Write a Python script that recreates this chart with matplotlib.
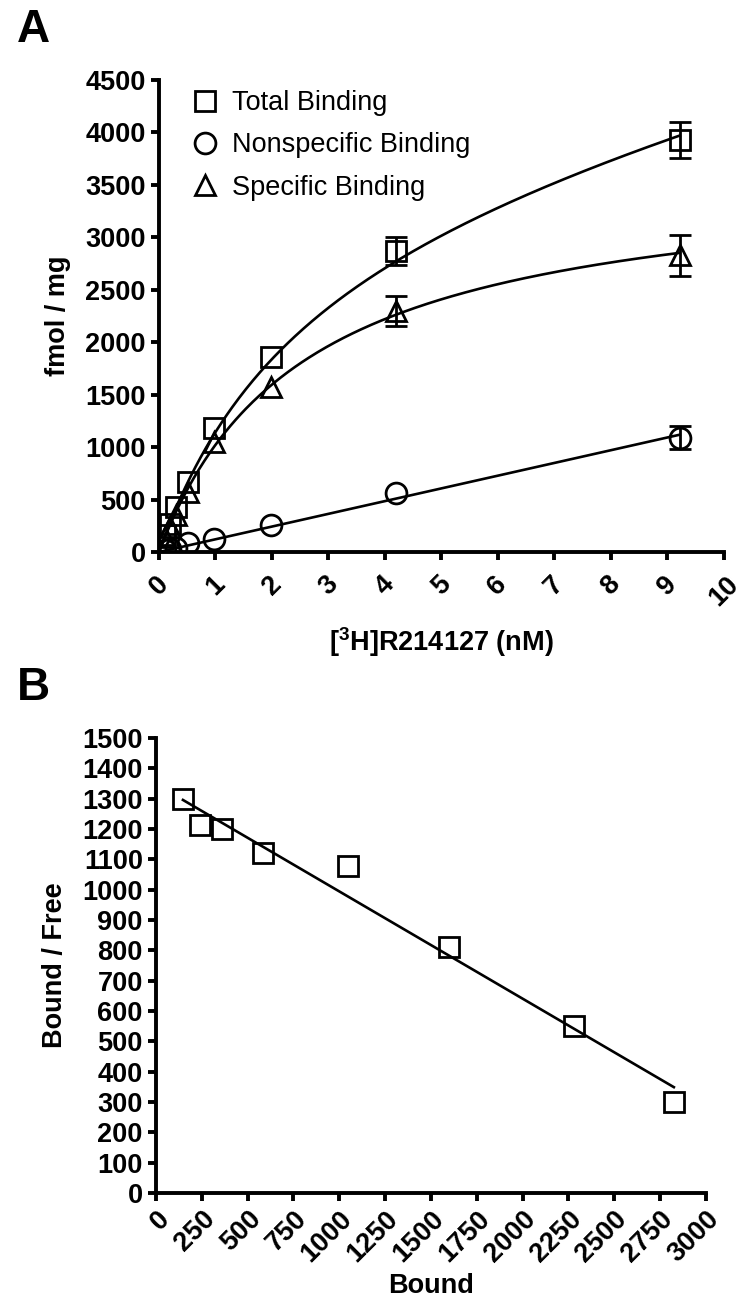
import numpy as np
import matplotlib

matplotlib.use('Agg')
import matplotlib.pyplot as plt

plt.rcParams['font.family'] = ['Liberation Sans', 'DejaVu Sans']
plt.rcParams['mathtext.fontset'] = 'custom'
plt.rcParams['mathtext.rm'] = 'Liberation Sans:bold'
plt.rcParams['mathtext.bf'] = 'Liberation Sans:bold'

nan = float('nan')

# Panel A: saturation binding (free ligand, nM)
conc = [0.11, 0.2, 0.3, 0.52, 0.98, 1.98, 4.2, 9.22]
total = [165, 270, 430, 665, 1185, 1860, 2870, 3930]
total_err = [nan, nan, nan, nan, nan, nan, 135, 170]
nonspec = [15, 28, 40, 85, 125, 255, 560, 1090]
nonspec_err = [nan, nan, nan, nan, nan, nan, nan, 110]
specific = [147, 240, 355, 575, 1045, 1575, 2300, 2830]
specific_err = [nan, nan, nan, nan, nan, nan, 145, 195]

# Panel B: Scatchard
bound = [147, 240, 360, 584, 1047, 1598, 2280, 2826]
bound_free = [1300, 1212, 1200, 1120, 1078, 812, 550, 300]

x = np.array(conc)
ys = np.array(specific)
yn = np.array(nonspec)

# one-site fit for specific binding (grid over Kd, least squares for Bmax)
best = None
for kd in np.linspace(0.5, 10, 3000):
    f = x / (kd + x)
    bmax = (f @ ys) / (f @ f)
    sse = ((ys - bmax * f) ** 2).sum()
    if best is None or sse < best[0]:
        best = (sse, kd, bmax)
_, kd, bmax = best
# linear nonspecific through origin
ns_slope = (x @ yn) / (x @ x)

xx = np.linspace(0, max(conc), 300)
spec_fit = bmax * xx / (kd + xx)
ns_fit = ns_slope * xx
tot_fit = spec_fit + ns_fit

fig = plt.figure(figsize=(7.5, 13.05), dpi=100)

fs = 19.5
lw_axis = 2.8
mk = dict(mfc='none', mec='black', mew=2.0, color='black', ls='none')


def style_axes(ax):
    for s in ['top', 'right']:
        ax.spines[s].set_visible(False)
    for s in ['left', 'bottom']:
        ax.spines[s].set_linewidth(lw_axis)
    ax.tick_params(width=lw_axis, length=6, labelsize=fs)
    for lab in ax.get_xticklabels() + ax.get_yticklabels():
        lab.set_fontweight('bold')


# ---- Panel A ----
ax1 = fig.add_axes([0.212, 0.577, 0.753, 0.3617])
ax1.plot(xx, tot_fit, color='black', lw=1.9)
ax1.plot(xx, ns_fit, color='black', lw=1.9)
ax1.plot(xx, spec_fit, color='black', lw=1.9)
ax1.errorbar(conc, total, yerr=total_err, marker='s', ms=14, capsize=8,
             capthick=2, elinewidth=2, label='Total Binding', **mk)
ax1.errorbar(conc, nonspec, yerr=nonspec_err, marker='o', ms=15, capsize=8,
             capthick=2, elinewidth=2, label='Nonspecific Binding', **mk)
ax1.errorbar(conc, specific, yerr=specific_err, marker='^', ms=15, capsize=8,
             capthick=2, elinewidth=2, label='Specific Binding', **mk)
ax1.set_xlim(0, 10)
ax1.set_ylim(0, 4500)
ax1.set_xticks(range(0, 11))
ax1.set_yticks(range(0, 4501, 500))
style_axes(ax1)
ax1.tick_params(axis='x', pad=8)
plt.setp(ax1.get_xticklabels(), rotation=45, ha='center')
ax1.set_ylabel('fmol / mg', fontsize=fs, fontweight='bold', labelpad=10)
ax1.set_xlabel(r'[$^{3}$H]R214127 (nM)', fontsize=fs, fontweight='bold', labelpad=10)
h, l = ax1.get_legend_handles_labels()
h = [hh[0] for hh in h]
ax1.legend(h, l, loc='upper left', bbox_to_anchor=(0.015, 1.03), frameon=False,
           fontsize=fs, handlelength=1.0, handletextpad=0.5, labelspacing=0.6)

# ---- Panel B ----
ax2 = fig.add_axes([0.208, 0.0858, 0.733, 0.3487])
k, b0 = np.polyfit(bound, bound_free, 1)
bx = np.array([min(bound), max(bound)])
ax2.plot(bx, k * bx + b0, color='black', lw=1.9)
ax2.plot(bound, bound_free, marker='s', ms=14.5, **mk)
ax2.set_xlim(0, 3000)
ax2.set_ylim(0, 1500)
ax2.set_xticks(range(0, 3001, 250))
ax2.set_yticks(range(0, 1501, 100))
style_axes(ax2)
plt.setp(ax2.get_xticklabels(), rotation=45, ha='right', rotation_mode='anchor')
ax2.set_ylabel('Bound / Free', fontsize=fs, fontweight='bold', labelpad=10)
ax2.set_xlabel('Bound', fontsize=fs, fontweight='bold', labelpad=4)

fig.text(0.022, 0.977, 'A', fontsize=33, fontweight='bold', va='center')
fig.text(0.022, 0.473, 'B', fontsize=33, fontweight='bold', va='center')

fig.savefig('out.png', dpi=100, facecolor='white')
